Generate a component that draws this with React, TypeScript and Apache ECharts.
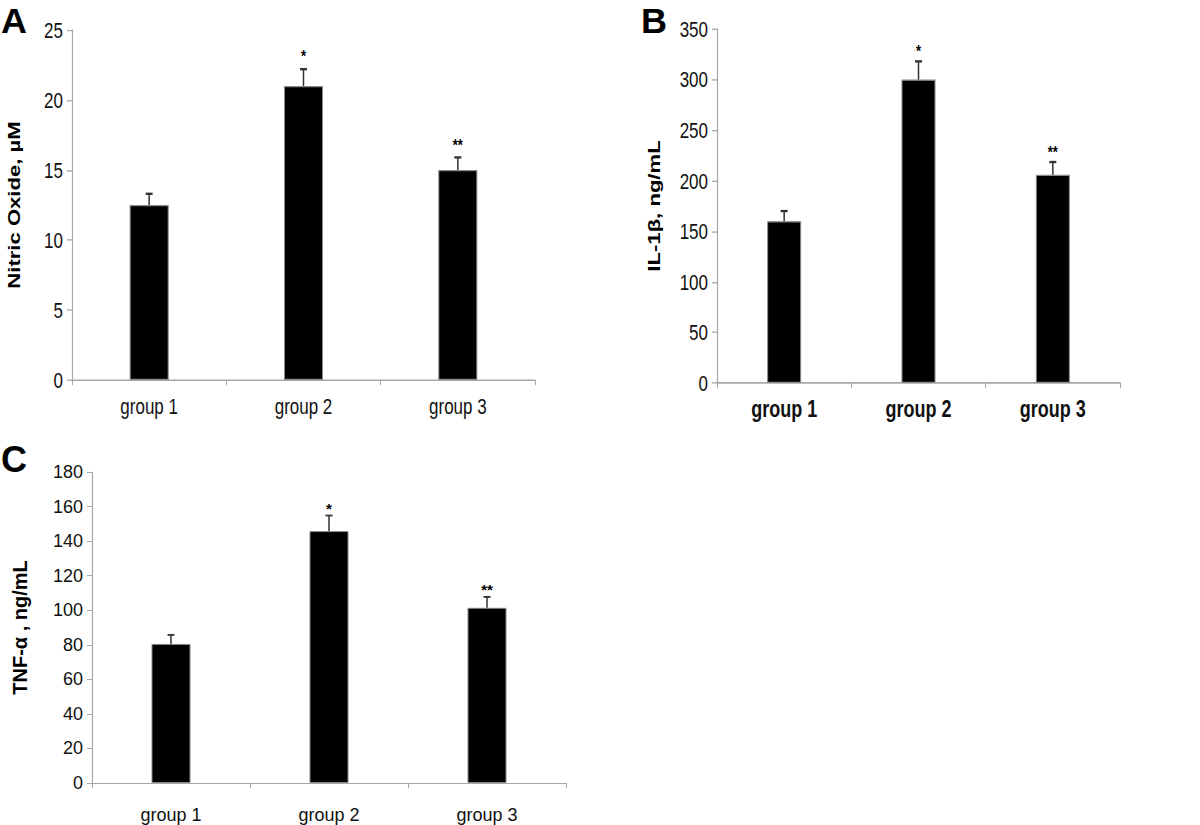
import React, { useEffect, useRef } from "react";
import * as echarts from "echarts";

const categories = ["group 1", "group 2", "group 3"];

const noValues = [12.5, 21.0, 15.0];
const noErrors = [0.8, 1.2, 0.9];
const noStars = ["", "*", "**"];
const noTicks = { min: 0, max: 25, interval: 5 };

const ilValues = [160, 300, 206];
const ilErrors = [10, 18, 12.5];
const ilStars = ["", "*", "**"];
const ilTicks = { min: 0, max: 350, interval: 50 };

const tnfValues = [80.5, 145.8, 101.4];
const tnfErrors = [5.2, 9, 6.3];
const tnfStars = ["", "*", "**"];
const tnfTicks = { min: 0, max: 180, interval: 20 };

const SANS = "'Liberation Sans', Arial, sans-serif";
const AXIS_GRAY = "#a8a8a8";
// panels A and B of the source figure are vertically stretched
const STRETCH = 1.3;

function errorSeries(idx: number, values: number[], errors: number[], stars: string[], starGap: number, starSize: number) {
  return {
    type: "custom",
    xAxisIndex: idx,
    yAxisIndex: idx,
    silent: true,
    z: 5,
    data: values.map((v, i) => [i, v, v + errors[i]]),
    renderItem: (params: any, api: any) => {
      const x = api.value(0);
      const p0 = api.coord([x, api.value(1)]);
      const p1 = api.coord([x, api.value(2)]);
      const star = stars[params.dataIndex];
      return {
        type: "group",
        children: [
          { type: "line", shape: { x1: p0[0], y1: p0[1], x2: p1[0], y2: p1[1] }, style: { stroke: "#333", lineWidth: 1.5 } },
          { type: "line", shape: { x1: p1[0] - 3.5, y1: p1[1], x2: p1[0] + 3.5, y2: p1[1] }, style: { stroke: "#333", lineWidth: 1.8 } },
          {
            type: "text",
            x: p1[0],
            y: p1[1] - starGap,
            style: { text: star, fill: "#000", font: "bold " + starSize + "px " + SANS, align: "center", verticalAlign: "middle" },
          },
        ],
      };
    },
  };
}

function barSeries(idx: number, values: number[], width: number) {
  return {
    type: "bar",
    xAxisIndex: idx,
    yAxisIndex: idx,
    barWidth: width,
    data: values,
    itemStyle: { color: "#000", borderColor: "#888", borderWidth: 1 },
    silent: true,
  };
}

function xAx(idx: number, size: number, bold: boolean, margin: number, tickLen: number) {
  return {
    type: "category",
    gridIndex: idx,
    data: categories,
    axisLine: { show: true, lineStyle: { color: AXIS_GRAY, width: 1.2 } },
    axisTick: { show: true, length: tickLen, lineStyle: { color: AXIS_GRAY } },
    axisLabel: { color: "#111", fontFamily: SANS, fontSize: size, fontWeight: bold ? "bold" : "normal", margin },
    splitLine: { show: false },
  };
}

function yAx(idx: number, t: any, name: string, gap: number, nameSize: number, size: number) {
  return {
    type: "value",
    gridIndex: idx,
    min: t.min,
    max: t.max,
    interval: t.interval,
    name,
    nameLocation: "middle",
    nameRotate: 90,
    nameGap: gap,
    nameTextStyle: { color: "#000", fontFamily: SANS, fontWeight: "bold", fontSize: nameSize },
    axisLine: { show: true, lineStyle: { color: AXIS_GRAY, width: 1.2 } },
    axisTick: { show: true, length: 5, lineStyle: { color: AXIS_GRAY } },
    axisLabel: { color: "#111", fontFamily: SANS, fontSize: size, margin: 9 },
    splitLine: { show: false },
  };
}

export default function App() {
  const refAB = useRef<HTMLDivElement>(null);
  const refC = useRef<HTMLDivElement>(null);
  useEffect(() => {
    if (!refAB.current || !refC.current) return;
    const chartAB = echarts.init(refAB.current, undefined, { renderer: "svg" });
    const chartC = echarts.init(refC.current, undefined, { renderer: "svg" });
    const s = STRETCH;
    chartAB.setOption({
      animation: false,
      grid: [
        { left: 72, top: 30 / s, width: 463, height: 350 / s },
        { left: 717, top: 29 / s, width: 403, height: 354 / s },
      ],
      xAxis: [xAx(0, 17, false, 12, 4), xAx(1, 18, true, 11, 4)],
      yAxis: [
        yAx(0, noTicks, "Nitric Oxide, µM", 50, 17, 17),
        yAx(1, ilTicks, "IL-1β, ng/mL", 55, 17, 17),
      ],
      series: [
        barSeries(0, noValues, 39),
        errorSeries(0, noValues, noErrors, noStars, 10, 13),
        barSeries(1, ilValues, 34),
        errorSeries(1, ilValues, ilErrors, ilStars, 8, 13),
      ],
      graphic: [
        { type: "text", x: 1, y: 2, scaleY: 1 / s, style: { text: "A", font: "bold 36px " + SANS, fill: "#000", verticalAlign: "top" } },
        { type: "text", x: 641, y: 2, scaleY: 1 / s, style: { text: "B", font: "bold 36px " + SANS, fill: "#000", verticalAlign: "top" } },
      ],
    });
    chartC.setOption({
      animation: false,
      grid: [{ left: 92, top: 42, width: 474, height: 311 }],
      xAxis: [xAx(0, 18, false, 23, 5)],
      yAxis: [yAx(0, tnfTicks, "TNF-α , ng/mL", 62, 20, 18)],
      series: [barSeries(0, tnfValues, 39), errorSeries(0, tnfValues, tnfErrors, tnfStars, 7, 15)],
      graphic: [
        { type: "text", x: 1, y: 11, style: { text: "C", font: "bold 36px " + SANS, fill: "#000", verticalAlign: "top" } },
      ],
    });
    return () => {
      chartAB.dispose();
      chartC.dispose();
    };
  }, []);
  return (
    <div style={{ position: "absolute", left: 0, top: 0, width: 1200, height: 825, background: "#fff", overflow: "hidden" }}>
      <div
        ref={refAB}
        style={{
          position: "absolute",
          left: 0,
          top: 0,
          width: 1200,
          height: 430 / STRETCH,
          transform: `scaleY(${STRETCH})`,
          transformOrigin: "0 0",
        }}
      />
      <div ref={refC} style={{ position: "absolute", left: 0, top: 430, width: 1200, height: 395 }} />
    </div>
  );
}
